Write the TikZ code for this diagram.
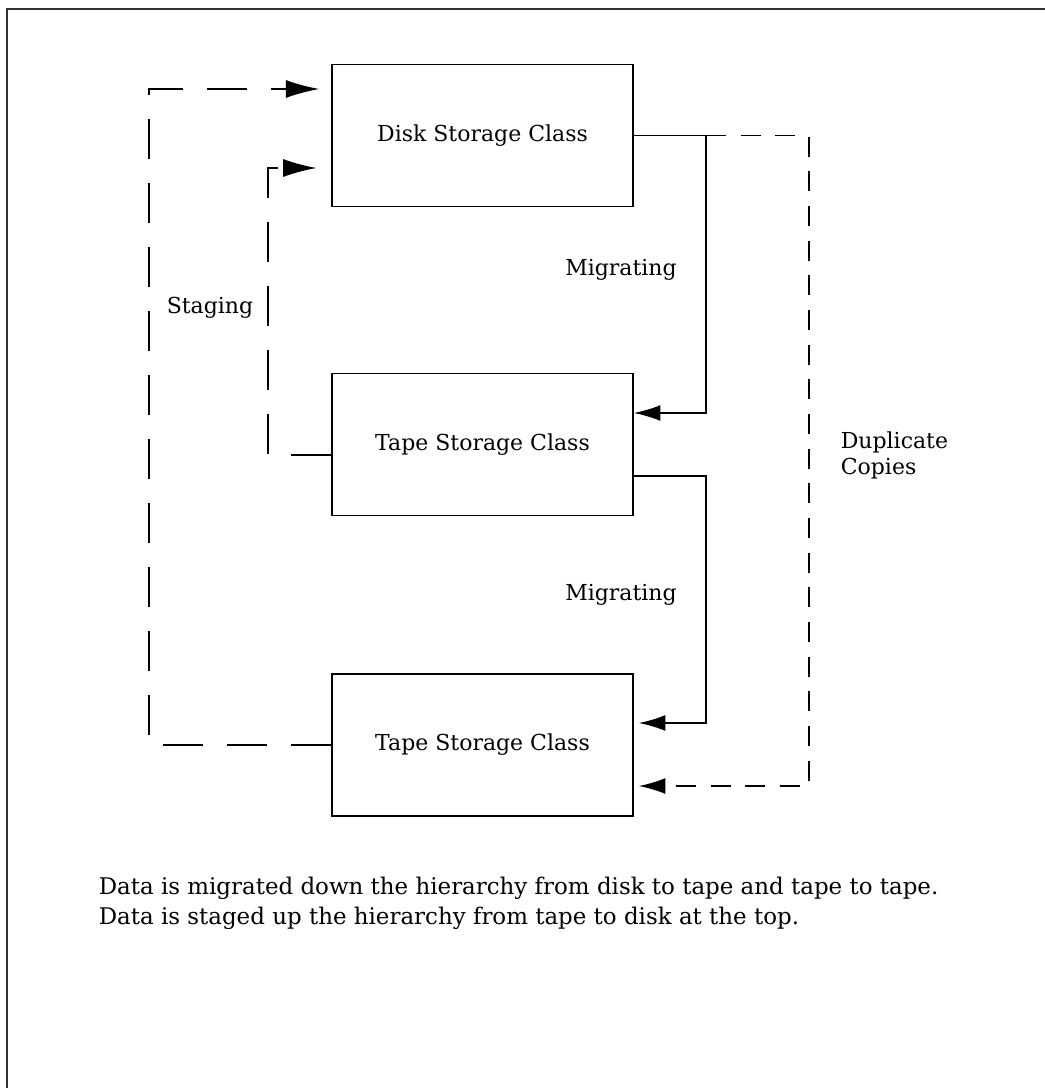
\documentclass[tikz,border=0pt]{standalone}
\usepackage{fontspec}
\setmainfont{DejaVu Serif}
\usetikzlibrary{arrows.meta}
\newcommand\diagfont{\fontsize{16.5pt}{20pt}\selectfont}
\begin{document}
\begin{tikzpicture}[x=0.75pt,y=-0.75pt,
  line width=1.2pt,
  box/.style={draw, rectangle, minimum width=225.75pt, minimum height=106.5pt,
    inner sep=0pt, font=\diagfont},
  lbl/.style={inner sep=0pt, font=\diagfont},
  longdash/.style={dash pattern=on 30pt off 18pt},
  shortdash/.style={dash pattern=on 15pt off 11pt},
  bigtip/.style={-{Latex[length=25pt,width=13.5pt]}},
  smalltip/.style={-{Latex[length=20pt,width=12pt]}},
]
\useasboundingbox (0,0) rectangle (1045,1088);

% page frame
\draw[line width=1.6pt, black!80] (7,1088) -- (7,9) -- (1045,9);

% storage classes
\node[box] (disk)  at (482.5,135.5) {Disk Storage Class};
\node[box] (tape1) at (482.5,444.5) {Tape Storage Class};
\node[box] (tape2) at (482.5,745)   {Tape Storage Class};

% migration disk -> tape
\coordinate (j1b) at (706,413);
\draw[smalltip] (disk.east) -| (j1b) -- (tape1.east |- j1b);

% duplicate copies disk -> lower tape
\coordinate (d1) at (809,786);
\draw[shortdash, smalltip, shorten >=3.75pt] (disk.east -| j1b) -| (d1) -- (tape2.east |- d1);

% migration tape -> tape
\coordinate (j2)  at (706,476);
\coordinate (j2b) at (706,723);
\draw[smalltip, shorten >=3.75pt] (tape1.east |- j2) -- (j2) -- (j2b) -- (tape2.east |- j2b);

% staging from lower tape to disk
\coordinate (o2) at (149,89);
\draw[longdash, bigtip, shorten >=9pt] (tape2.west) -| (o2) -- (disk.west |- o2);

% staging from upper tape to disk
\coordinate (i1) at (268,455);
\coordinate (i2) at (268,168);
\draw[longdash, bigtip, shorten >=11pt] (tape1.west |- i1) -- (i1) -- (i2) -- (disk.west |- i2);

% labels
\node[lbl] (mig1) at (621,270) {Migrating};
\node[lbl] (mig2) at (621,595) {Migrating};
\node[lbl] (stag) at (210,308) {Staging};
\node[lbl, align=left, anchor=west, font=\fontsize{16.5pt}{19.5pt}\selectfont] (dup) at (840,455) {Duplicate\\Copies};
\node[lbl, align=left, anchor=west, font=\fontsize{17.2pt}{22.5pt}\selectfont] (note) at (98,903)
  {Data is migrated down the hierarchy from disk to tape and tape to tape.\\
   Data is staged up the hierarchy from tape to disk at the top.};
\end{tikzpicture}
\end{document}
